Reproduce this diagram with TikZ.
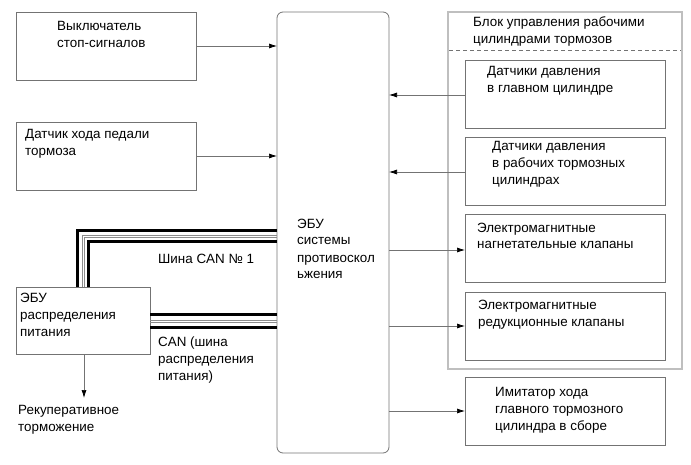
\documentclass[tikz,border=0pt]{standalone}
\usepackage{fontspec}
\setmainfont{Liberation Sans}
\usetikzlibrary{arrows.meta}
\begin{document}
\begin{tikzpicture}[x=1pt,y=-1pt,
  boxst/.style={draw=black!55,line width=0.8pt},
  lbl/.style={anchor=base west,inner sep=0pt,align=left,font=\fontsize{13.4}{17}\selectfont},
  conn/.style={draw=black!55,line width=0.7pt,-{Latex[length=8pt,width=5pt,black]}},
  busb/.style={line width=3pt,black},
  busg/.style={line width=0.8pt,black!45}]
\useasboundingbox (0,0) rectangle (691,465);
% left boxes
\draw[boxst] (16,12) rectangle (196,80);
\coordinate (b1e) at (196,46);
\node[lbl] (t1) at (57,48) {Выключатель\\стоп-сигналов};
\draw[boxst] (16,122) rectangle (196,190);
\coordinate (b2e) at (196,156);
\node[lbl] (t2) at (25,156) {Датчик хода педали\\тормоза};
% ECU
\draw[boxst,rounded corners=6pt] (277,12) rectangle (389,453);
\node[lbl] (tecu) at (297,279) {ЭБУ\\системы\\противоскол\\ьжения};
\coordinate (e1) at (277,46);
\coordinate (e2) at (277,156);
\coordinate (eA) at (389,95);
\coordinate (eB) at (389,172);
\coordinate (eC) at (389,250);
\coordinate (eD) at (389,326);
\coordinate (eE) at (389,411);
% outer block
\draw[draw=black!25,line width=2pt] (448,12) rectangle (682,369);
\node[lbl] (tblk) at (473,44) {Блок управления рабочими\\цилиндрами тормозов};
\draw[draw=black!55,line width=0.7pt,dash pattern=on 4pt off 3pt] (449,50) -- (681,50);
% inner boxes
\draw[boxst] (465,60) rectangle (665,128);
\node[lbl] (tA) at (487,93) {Датчики давления\\в главном цилиндре};
\coordinate (bA) at (465,95);
\draw[boxst] (465,137) rectangle (665,205);
\node[lbl] (tB) at (492,185) {Датчики давления\\в рабочих тормозных\\цилиндрах};
\coordinate (bB) at (465,172);
\draw[boxst] (465,214) rectangle (665,282);
\node[lbl] (tC) at (477,249) {Электромагнитные\\нагнетательные клапаны};
\coordinate (bC) at (465,250);
\draw[boxst] (465,292) rectangle (665,360);
\node[lbl] (tD) at (478,326) {Электромагнитные\\редукционные клапаны};
\coordinate (bD) at (465,326);
\draw[boxst] (465,377) rectangle (665,445);
\node[lbl] (tE) at (495,430) {Имитатор хода\\главного тормозного\\цилиндра в сборе};
\coordinate (bE) at (465,411);
% power ECU
\draw[boxst] (16,287) rectangle (150,354);
\node[lbl] (tP) at (20,336) {ЭБУ\\распределения\\питания};
\coordinate (pS) at (84,354);
\coordinate (rk) at (84,398);
\node[lbl] (tR) at (18,431) {Рекуперативное\\торможение};
% connectors
\draw[conn] (b1e) -- (e1);
\draw[conn] (b2e) -- (e2);
\draw[conn] (bA) -- (eA);
\draw[conn] (bB) -- (eB);
\draw[conn] (eC) -- (bC);
\draw[conn] (eD) -- (bD);
\draw[conn] (eE) -- (bE);
\draw[conn] (pS) -- (rk);
% CAN bus 1
\draw[busb] (77.5,287) |- (277,230.5);
\draw[busg] (82,287) |- (277,235);
\draw[busg] (84.5,287) |- (277,237.5);
\draw[busb] (88.5,287) |- (277,241.5);
\node[lbl] (tcan1) at (158,264) {Шина CAN № 1};
% CAN power bus
\draw[busb] (150,314.5) -- (277,314.5);
\draw[busg] (150,320) -- (277,320);
\draw[busg] (150,322.5) -- (277,322.5);
\draw[busb] (150,327) -- (277,327);
\node[lbl] (tcan2) at (158,380) {CAN (шина\\распределения\\питания)};
\end{tikzpicture}
\end{document}
